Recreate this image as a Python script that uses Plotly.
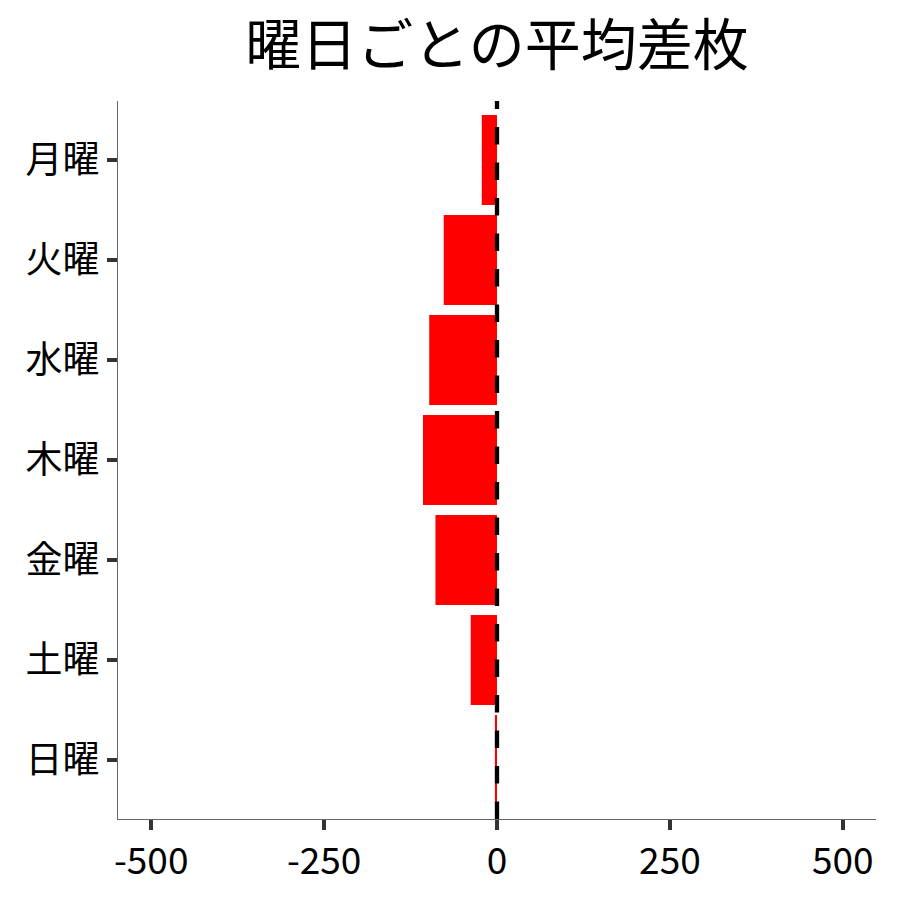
import plotly.graph_objects as go

days = ["月曜", "火曜", "水曜", "木曜", "金曜", "土曜", "日曜"]
avg_diff = [-22, -77, -98, -107, -89, -38, -3]
x_ticks = [-500, -250, 0, 250, 500]
x_tick_labels = ["-500", "-250", "0", "250", "500"]
ref_x = 0
title_text = "曜日ごとの平均差枚"

FONT = "Noto Sans CJK JP"

fig = go.Figure()
fig.add_trace(go.Bar(
    x=avg_diff, y=days, orientation="h",
    marker=dict(color="#ff0000", line=dict(width=0)),
    width=0.9,
))
fig.add_vline(x=ref_x, y0=0, y1=1,
              line=dict(color="black", width=4.3, dash="17.5px,18px"), layer="above")

fig.update_layout(
    width=900, height=900,
    paper_bgcolor="white", plot_bgcolor="white",
    margin=dict(l=110, r=32, t=93, b=89),
    showlegend=False,
    title=dict(text=title_text, x=0.5, xref="paper", xanchor="center",
               y=1 - 37 / 900, yref="container", yanchor="middle",
               font=dict(family=FONT, size=56, color="black")),
    font=dict(family=FONT, color="black"),
)
fig.update_xaxes(
    range=[-548, 548], tickvals=x_ticks, ticktext=x_tick_labels,
    showgrid=False, zeroline=False,
    showline=True, linecolor="#666666", linewidth=1,
    ticks="outside", ticklen=10, tickwidth=3.5, tickcolor="#333333",
    tickfont=dict(family=FONT, size=37, color="black"),
)
fig.update_yaxes(
    categoryorder="array", categoryarray=days,
    range=[6.59, -0.59],
    showgrid=False, zeroline=False,
    showline=True, linecolor="#666666", linewidth=1,
    ticks="outside", ticklen=10, tickwidth=3.5, tickcolor="#333333",
    tickfont=dict(family=FONT, size=37, color="black"),
)

fig.write_html("out.html")
